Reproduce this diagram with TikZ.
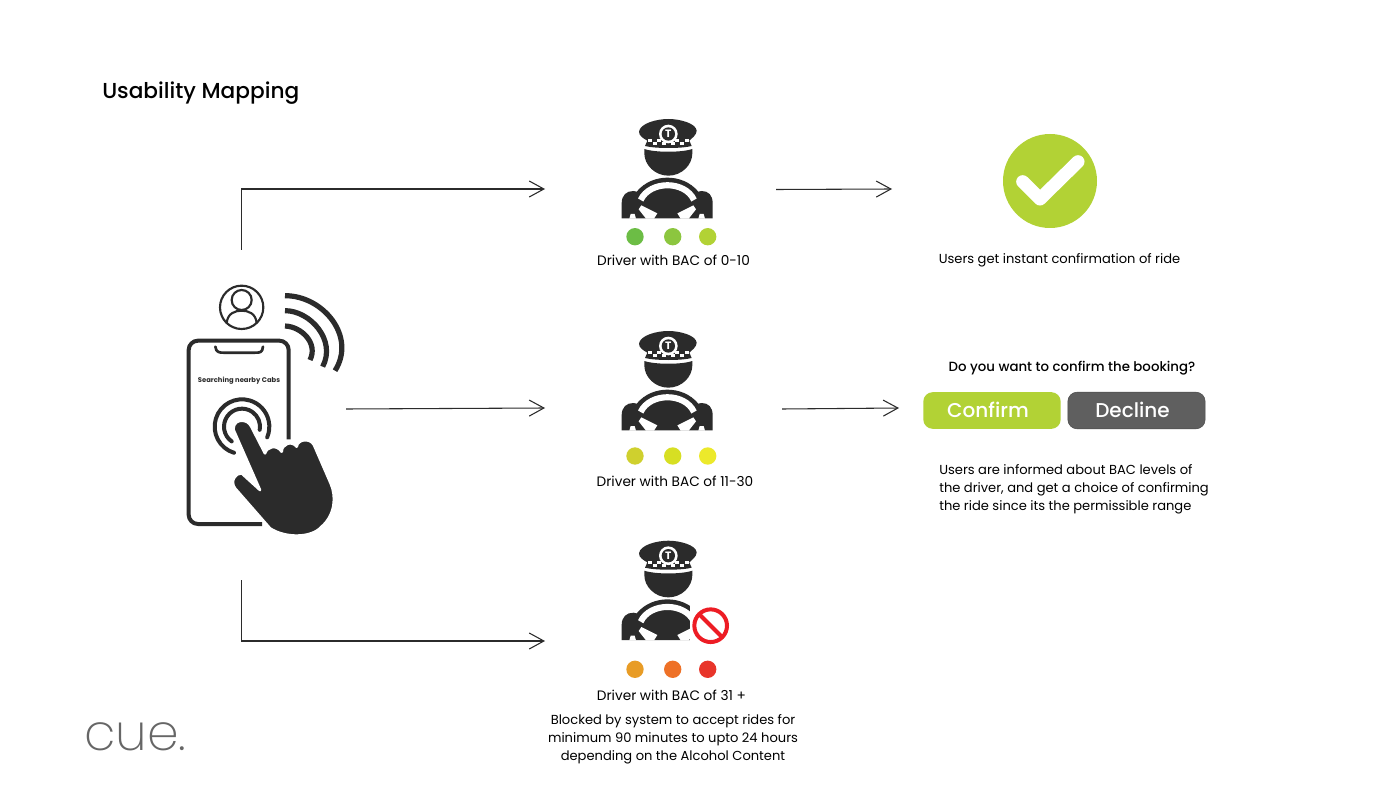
\documentclass[tikz,border=0pt]{standalone}
\usepackage{fontspec}
\setmainfont{Poppins}
\newfontfamily\medfont{Poppins Medium}
\newfontfamily\lightfont{Poppins ExtraLight}
\usetikzlibrary{arrows.meta}
\definecolor{ink}{HTML}{2B2B2B}
\definecolor{lime}{HTML}{B2D235}
\definecolor{slate}{HTML}{5F5F5F}
\definecolor{logogray}{HTML}{666666}
\definecolor{stopred}{HTML}{ED1C24}
\tikzset{
  conn/.style={draw=ink,line width=0.8pt,-{Straight Barb[length=11pt,width=12pt]}},
  lbl/.style={inner sep=0pt,align=center,text=black,font=\fontsize{9.8}{13.5}\selectfont},
  drvlbl/.style={lbl,font=\fontsize{10.25}{13.5}\selectfont},
  dotmark/.style={circle,inner sep=0pt,minimum size=13pt},
  btn/.style={rounded corners=7pt,minimum width=103pt,minimum height=27.5pt,inner sep=0pt,text=white,font=\medfont\fontsize{15}{18}\selectfont},
  pics/driver/.style={code={
    \begin{scope}[x=0.25pt,y=-0.25pt]
      % cap
      \fill[ink] (117,65) .. controls (120,40) and (170,27) .. (205,27) .. controls (240,27) and (288,40) .. (290,62)
        .. controls (290,75) and (275,85) .. (268,92) -- (275,108) .. controls (245,116) and (165,116) .. (135,108) -- (142,92) .. controls (130,85) and (117,78) .. (117,65) -- cycle;
      \foreach \cx in {150,178,232,260}{\fill[white] (\cx-6,88) rectangle (\cx+6,97);}
      \foreach \cx in {164,192,218,246}{\fill[white] (\cx-6,97) rectangle (\cx+6,106);}
      \fill[white] (205,72) circle (28);
      \fill[ink] (205,72) circle (20);
      \node[text=white,inner sep=0pt,font=\bfseries\fontsize{8}{8}\selectfont] (badge) at (205,72) {T};
      % face
      \fill[ink] (133,117) .. controls (165,128) and (245,128) .. (277,117) -- (277,130) .. controls (277,165) and (245,197) .. (205,197)
        .. controls (165,197) and (133,165) .. (133,130) -- cycle;
      % body
      \fill[ink] (65,325) -- (65,280) .. controls (65,255) and (80,243) .. (100,243) -- (110,245)
        .. controls (135,215) and (170,203) .. (202,203) .. controls (235,203) and (270,215) .. (295,245)
        -- (305,243) .. controls (325,243) and (338,255) .. (338,280) -- (338,325) -- cycle;
      % wheel rim
      \draw[white,line width=4.6pt] (122,270) .. controls (150,211) and (255,211) .. (282,270);
      % spokes
      \fill[white] (124,286) -- (172,310) -- (162,326) -- (138,326) -- (116,298) -- cycle;
      \fill[white] (280,286) -- (232,310) -- (242,326) -- (266,326) -- (288,298) -- cycle;
      \fill[white] (88,326) -- (92,312) -- (104,312) -- (108,326) -- cycle;
      \fill[white] (315,326) -- (311,312) -- (299,312) -- (295,326) -- cycle;
    \end{scope}
  }}
}
\begin{document}
\begin{tikzpicture}[x=0.75pt,y=-0.75pt]
\useasboundingbox (0,0) rectangle (1400,788);
\fill[white] (0,0) rectangle (1400,788);

\node[anchor=west,inner sep=0pt,font=\medfont\fontsize{16.25}{18}\selectfont,text=black] (title) at (102,93) {Usability Mapping};

% connector ends
\coordinate (s1) at (241.5,250); \coordinate (t1) at (545,189);
\coordinate (s2) at (346,409); \coordinate (t2) at (545,408);
\coordinate (s3) at (241.5,580); \coordinate (t3) at (545,641);
\coordinate (u1) at (776,189.5); \coordinate (v1) at (892,189);
\coordinate (u2) at (782,409); \coordinate (v2) at (899,408);
\draw[conn] (s1) |- (t1);
\draw[conn] (s2) -- (t2);
\draw[conn] (s3) |- (t3);
\draw[conn] (u1) -- (v1);
\draw[conn] (u2) -- (v2);

% drivers
\pic (drvA) at (600,110) {driver};
\pic (drvB) at (600,322) {driver};
\pic (drvC) at (600,531.7) {driver};
\begin{scope}[shift={(600,531.7)},x=0.25pt,y=-0.25pt]
  \fill[white] (270,195) rectangle (345,332);
  \draw[stopred,line width=3pt] (332,282) circle (49);
  \draw[stopred,line width=3pt] (298,248) -- (366,316);
\end{scope}

% dots
\node[dotmark,fill={rgb,255:red,108;green,189;blue,69}] (a1) at (635,236.7) {};
\node[dotmark,fill={rgb,255:red,140;green,198;blue,63}] (a2) at (672.7,236.7) {};
\node[dotmark,fill=lime] (a3) at (707.7,236.7) {};
\node[dotmark,fill={rgb,255:red,207;green,208;blue,46}] (b1) at (635,456) {};
\node[dotmark,fill={rgb,255:red,215;green,223;blue,35}] (b2) at (672.7,456) {};
\node[dotmark,fill={rgb,255:red,236;green,233;blue,43}] (b3) at (707.7,456) {};
\node[dotmark,fill={rgb,255:red,232;green,156;blue,38}] (c1) at (635,669.3) {};
\node[dotmark,fill={rgb,255:red,238;green,113;blue,39}] (c2) at (672.7,669.3) {};
\node[dotmark,fill={rgb,255:red,232;green,53;blue,42}] (c3) at (707.7,669.3) {};

% labels
\node[drvlbl] (la) at (673.5,260) {Driver with BAC of 0-10};
\node[drvlbl] (lb) at (675,481) {Driver with BAC of 11-30};
\node[drvlbl] (lc) at (671.5,695) {Driver with BAC of 31 +};
\node[lbl] (ld) at (673,739) {Blocked by system to accept rides for\\minimum 90 minutes to upto 24 hours\\depending on the Alcohol Content};

% check
\fill[lime] (1050,181) circle (47);
\draw[white,line width=9.8pt,line cap=round,line join=round] (1022.7,181.7) -- (1040,199) -- (1078,161.7);
\node[lbl] (lok) at (1059.5,260.5) {Users get instant confirmation of ride};

% booking
\node[lbl,font=\medfont\fontsize{10}{13.5}\selectfont] (ask) at (1072,368.5) {Do you want to confirm the booking?};
\node[btn,fill=lime] (confirm) at (992,410.5) {\kern-6pt\raisebox{0.7pt}{Confirm}};
\node[btn,fill=slate,draw=ink!85] (decline) at (1136.5,410.5) {\kern-6pt\raisebox{0.7pt}{Decline}};
\node[lbl,align=left,anchor=west] (linfo) at (939,489) {Users are informed about BAC levels of\\the driver, and get a choice of confirming\\the ride since its the permissible range};

% phone group
\begin{scope}[shift={(170,270)},x=0.25pt,y=-0.25pt]
  \draw[ink,line width=3pt,line join=round,rounded corners=7pt] (356,508) -- (356,212) -- (56,212) -- (56,762) -- (276,762);
  \draw[ink,line width=2pt,line cap=round] (136,230) .. controls (138,248) and (150,248) .. (160,248) -- (255,248) .. controls (270,248) and (277,248) .. (279,230);
  \node[inner sep=0pt,font=\bfseries\fontsize{5.1}{6}\selectfont,text=ink] (searching) at (207,333) {Searching nearby Cabs};
  % person
  \draw[ink,line width=1.6pt] (215,112) circle (65);
  \draw[ink,line width=1.6pt] (215,90) circle (30);
  \draw[ink,line width=1.6pt] (170,160) .. controls (172,130) and (195,122) .. (215,122) .. controls (235,122) and (258,130) .. (260,160);
  % signal
  \draw[ink,line width=3.9pt] (345,168) .. controls (395,170) and (445,220) .. (420,270);
  \draw[ink,line width=3.9pt] (345,122) .. controls (420,122) and (500,210) .. (458,290);
  \draw[ink,line width=3.9pt] (345,77) .. controls (460,77) and (560,200) .. (495,302);
  % rings
  \draw[ink,line width=3pt,line cap=round] (216,470) ++(107:82) arc[start angle=107,end angle=383,radius=82];
  \draw[ink,line width=3pt,line cap=round] (216,470) ++(125:54) arc[start angle=125,end angle=370,radius=54];
  % hand
  \fill[ink,draw=white,line width=2pt,line join=round] (190,478) .. controls (190,458) and (205,452) .. (215,452) .. controls (228,452) and (238,458) .. (244,470)
    -- (285,550) .. controls (290,530) and (320,522) .. (335,545) .. controls (335,522) and (365,510) .. (380,530)
    .. controls (382,508) and (420,502) .. (432,525) -- (482,640) .. controls (500,680) and (495,735) .. (455,770)
    .. controls (425,805) and (345,805) .. (300,775) -- (195,655) .. controls (180,635) and (195,608) .. (215,610) -- (270,660) -- cycle;
\end{scope}

% logo
\node[anchor=west,inner sep=0pt,font=\lightfont\fontsize{38}{38}\selectfont,text=logogray] (logo) at (84,737) {cue.};
\end{tikzpicture}
\end{document}
